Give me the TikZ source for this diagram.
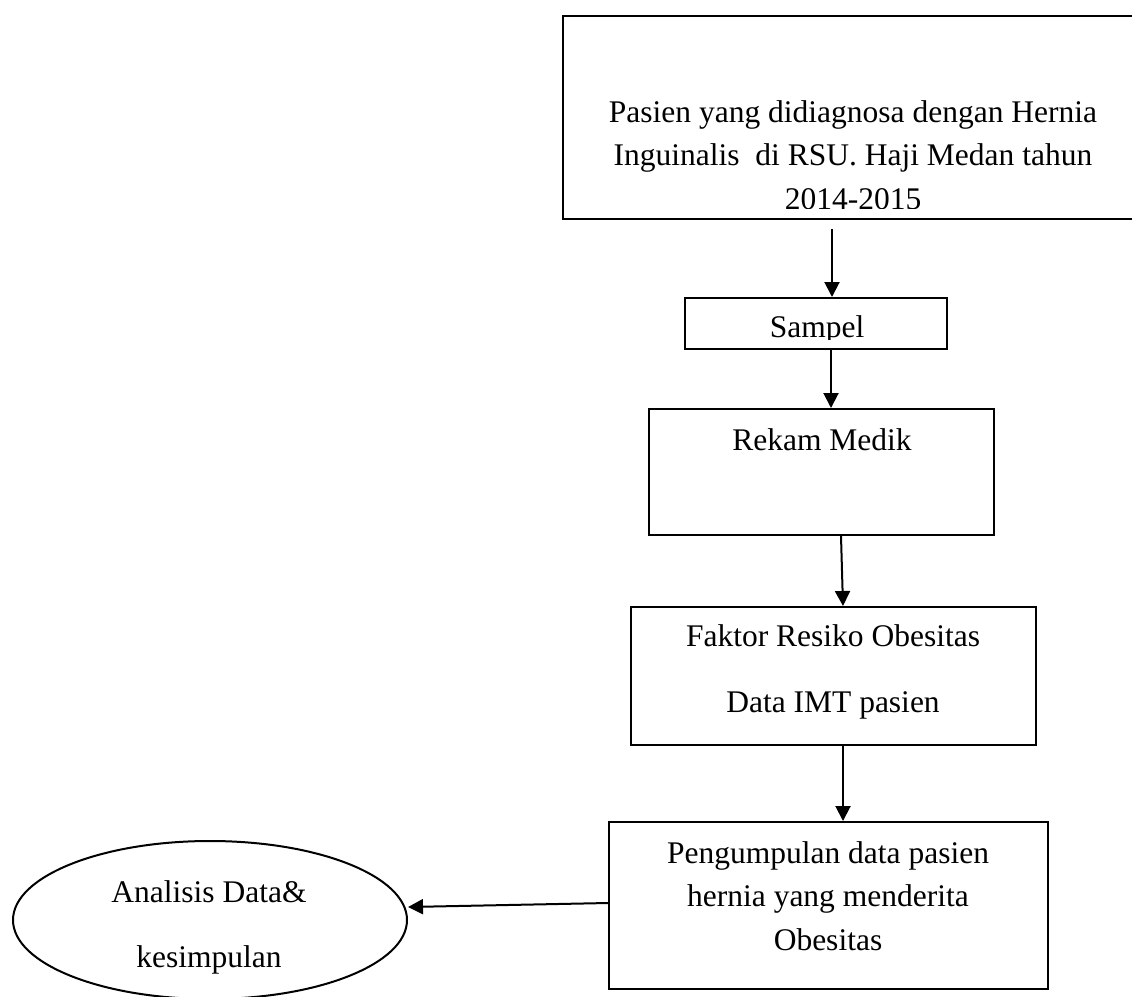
\documentclass[tikz,border=0pt]{standalone}
\usepackage{fontspec}
\setmainfont{Liberation Serif}
\usetikzlibrary{arrows.meta,shapes.geometric}

\begin{document}
\begin{tikzpicture}[x=1pt,y=-1pt,line width=2pt,
    every node/.style={font=\fontsize{31.5}{43.5}\selectfont},
    box/.style={draw,rectangle,inner sep=0pt},
    txt/.style={inner sep=0pt,anchor=base,align=center},
    arr/.style={-{Triangle[length=15pt,width=15pt]}}]
	\path[use as bounding box] (0,0) rectangle (1132,996);
	\clip (0,0) rectangle (1132,996);
	% boxes
	\node (pasien) [box,minimum width=580pt,minimum height=203pt] at (853,117.5) {};
	\node (sampel) [box,minimum width=262pt,minimum height=51pt] at (816,323.5) {};
	\node (rekam) [box,minimum width=345pt,minimum height=126pt] at (821.5,472) {};
	\node (faktor) [box,minimum width=405pt,minimum height=138pt] at (833.5,676) {};
	\node (kumpul) [box,minimum width=439pt,minimum height=167pt] at (828.5,905.5) {};
	\node (analisis) [draw,ellipse,inner sep=0pt,minimum width=394pt,minimum height=158pt] at (210,920) {};
	% texts (base anchor = last line)
	\begin{scope}
		\clip (565,18) rectangle (1132,208);
		\node (pasien-t) [txt] at (853,209) {Pasien yang didiagnosa dengan Hernia\\Inguinalis\ \ di RSU. Haji Medan tahun\\2014-2015};
	\end{scope}
	\begin{scope}
		\clip (687,300) rectangle (945,339);
		\node (sampel-t) [txt] at (817,337) {Sampel};
	\end{scope}
	\node (rekam-t) [txt] at (822,450) {Rekam Medik};
	\node (faktor-t) [txt] at (833,646) {Faktor Resiko Obesitas};
	\node (imt-t) [txt] at (833,712) {Data IMT pasien};
	\node (kumpul-t) [txt] at (828,950) {Pengumpulan data pasien\\hernia yang menderita\\Obesitas};
	\node (analisis-t) [txt] at (209,902) {Analisis Data\&};
	\node (simpul-t) [txt] at (209,967) {kesimpulan};
	% arrows
	\draw[arr] ([xshift=-21pt,yshift=-9pt]pasien.south) -- ([xshift=16pt]sampel.north);
	\draw[arr] ([xshift=15pt]sampel.south) -- ([xshift=9.5pt]rekam.north);
	\draw[arr] ([xshift=19.5pt]rekam.south) -- ([xshift=9.5pt]faktor.north);
	\draw[arr] ([xshift=9.5pt]faktor.south) -- ([xshift=14.5pt]kumpul.north);
	\draw[arr] ([yshift=2.5pt]kumpul.west) -- ([yshift=13pt]analisis.east);
\end{tikzpicture}
\end{document}
